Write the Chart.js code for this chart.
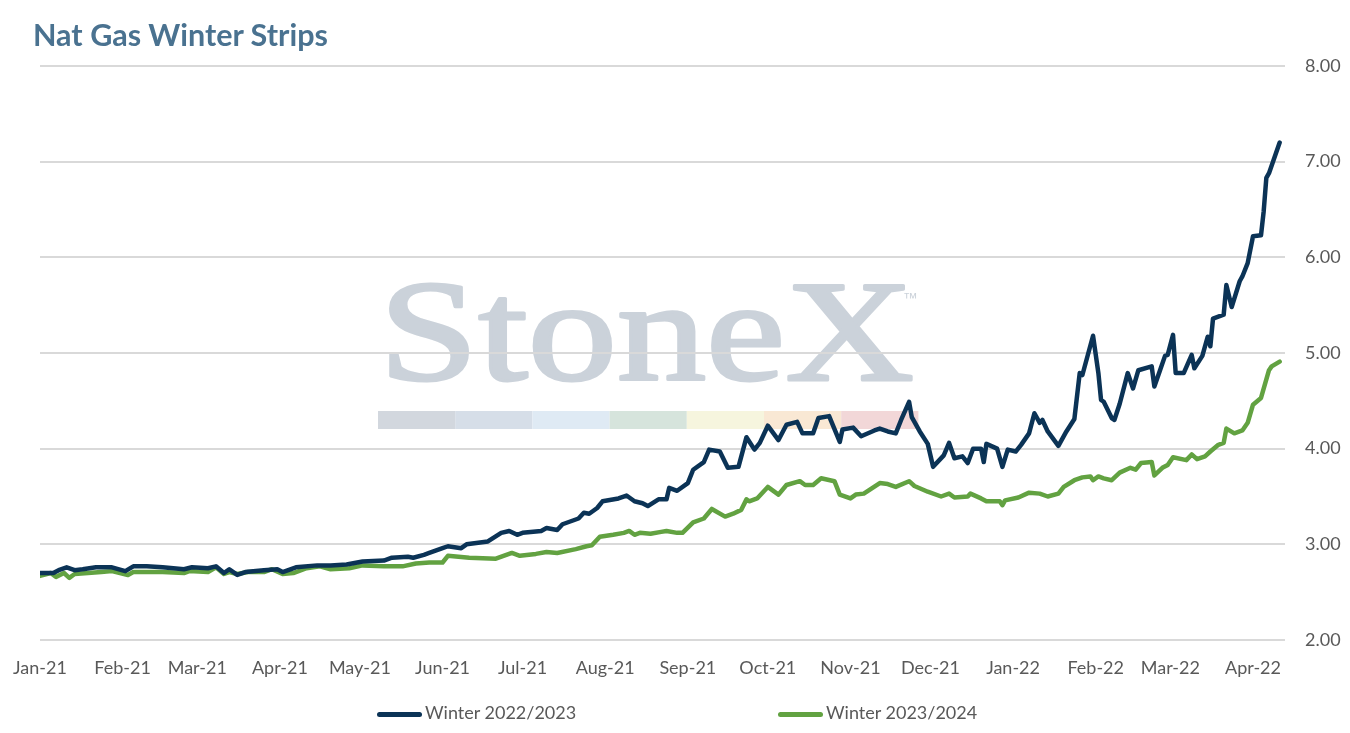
<!DOCTYPE html>
<html>
<head>
<meta charset="utf-8">
<title>Nat Gas Winter Strips</title>
<script src="https://cdn.jsdelivr.net/npm/chart.js@4.4.1/dist/chart.umd.min.js"></script>
<style>
    html, body { margin: 0; padding: 0; overflow: hidden; background: #ffffff; font-family: Lato, "Open Sans", sans-serif; }
    #wrap { position: relative; width: 1350px; height: 733px; }
    #myChart { display: block; position: absolute; left: 0; top: 0; }
    #title { position: absolute; left: 33px; top: 15px; font-size: 30.5px; font-weight: bold; color: #4a7290; line-height: 38px; }
    .legend_item { position: absolute; top: 700px; font-size: 18px; color: #595959; line-height: 24px; white-space: nowrap; }
    .swatch { display: inline-block; width: 45px; height: 5px; border-radius: 3px; vertical-align: middle; margin-right: 3px; }
</style>
</head>
<body>
<div id="wrap">
    <canvas id="myChart" width="1350" height="733"></canvas>
    <div id="title">Nat Gas Winter Strips</div>
    <div class="legend_item" style="left:377px"><span class="swatch" style="background:#0b3356"></span>Winter 2022/2023</div>
    <div class="legend_item" style="left:778px"><span class="swatch" style="background:#62a241"></span>Winter 2023/2024</div>
</div>
<script>
const tickDates = ['2021-01-01', '2021-02-01', '2021-03-01', '2021-04-01', '2021-05-01', '2021-06-01', '2021-07-01', '2021-08-01',
    '2021-09-01', '2021-10-01', '2021-11-01', '2021-12-01', '2022-01-01', '2022-02-01', '2022-03-01', '2022-04-01'];
const tickLabels = ['Jan-21', 'Feb-21', 'Mar-21', 'Apr-21', 'May-21', 'Jun-21', 'Jul-21', 'Aug-21',
    'Sep-21', 'Oct-21', 'Nov-21', 'Dec-21', 'Jan-22', 'Feb-22', 'Mar-22', 'Apr-22'];
const yTicks = [2, 3, 4, 5, 6, 7, 8];

// Winter 2022/2023
const navyDates = [
    '2021-01-01', '2021-01-06', '2021-01-08', '2021-01-11', '2021-01-14', '2021-01-17', '2021-01-22', '2021-01-28',
    '2021-02-02', '2021-02-05', '2021-02-10', '2021-02-16', '2021-02-24', '2021-02-27',
    '2021-03-05', '2021-03-08', '2021-03-11', '2021-03-13', '2021-03-16', '2021-03-19', '2021-03-26', '2021-03-31',
    '2021-04-02', '2021-04-07', '2021-04-15', '2021-04-20', '2021-04-26',
    '2021-05-02', '2021-05-10', '2021-05-13', '2021-05-19', '2021-05-21', '2021-05-25', '2021-05-27',
    '2021-06-01', '2021-06-03', '2021-06-08', '2021-06-10', '2021-06-18', '2021-06-23', '2021-06-26', '2021-06-29',
    '2021-07-01', '2021-07-08', '2021-07-10', '2021-07-14', '2021-07-16', '2021-07-22', '2021-07-24', '2021-07-26', '2021-07-29', '2021-07-31',
    '2021-08-06', '2021-08-09', '2021-08-12', '2021-08-15', '2021-08-17', '2021-08-21', '2021-08-24', '2021-08-25', '2021-08-28',
    '2021-09-01', '2021-09-03', '2021-09-07', '2021-09-09', '2021-09-13', '2021-09-16', '2021-09-20', '2021-09-23', '2021-09-26', '2021-09-28',
    '2021-10-01', '2021-10-05', '2021-10-08', '2021-10-12', '2021-10-14', '2021-10-18', '2021-10-20', '2021-10-24', '2021-10-28', '2021-10-29',
    '2021-11-02', '2021-11-05', '2021-11-10', '2021-11-12', '2021-11-15', '2021-11-18', '2021-11-20', '2021-11-23', '2021-11-24', '2021-11-27', '2021-11-30',
    '2021-12-02', '2021-12-06', '2021-12-08', '2021-12-10', '2021-12-13', '2021-12-15', '2021-12-17', '2021-12-20', '2021-12-21', '2021-12-22', '2021-12-26', '2021-12-28', '2021-12-30',
    '2022-01-02', '2022-01-04', '2022-01-07', '2022-01-09', '2022-01-11', '2022-01-12', '2022-01-14', '2022-01-18', '2022-01-21', '2022-01-24', '2022-01-26', '2022-01-27', '2022-01-31',
    '2022-02-02', '2022-02-03', '2022-02-04', '2022-02-07', '2022-02-08', '2022-02-10', '2022-02-13', '2022-02-15', '2022-02-17', '2022-02-22', '2022-02-23', '2022-02-25', '2022-02-27', '2022-02-28',
    '2022-03-02', '2022-03-03', '2022-03-06', '2022-03-09', '2022-03-10', '2022-03-13', '2022-03-15', '2022-03-16', '2022-03-17', '2022-03-21', '2022-03-22', '2022-03-24', '2022-03-27', '2022-03-28', '2022-03-30',
    '2022-04-01', '2022-04-04', '2022-04-05', '2022-04-06', '2022-04-07', '2022-04-11'
];
const navyValues = [
    2.70, 2.70, 2.73, 2.76, 2.73, 2.74, 2.76, 2.76,
    2.72, 2.77, 2.77, 2.76, 2.74, 2.76,
    2.75, 2.77, 2.70, 2.74, 2.68, 2.71, 2.73, 2.74,
    2.71, 2.76, 2.78, 2.78, 2.79,
    2.82, 2.83, 2.86, 2.87, 2.86, 2.89, 2.91,
    2.96, 2.98, 2.96, 3.00, 3.03, 3.12, 3.14, 3.10,
    3.12, 3.14, 3.17, 3.15, 3.21, 3.27, 3.33, 3.32, 3.38, 3.45,
    3.48, 3.51, 3.45, 3.43, 3.40, 3.47, 3.47, 3.59, 3.56,
    3.64, 3.78, 3.86, 3.99, 3.97, 3.80, 3.81, 4.12, 3.99, 4.06,
    4.24, 4.09, 4.25, 4.28, 4.16, 4.16, 4.32, 4.34, 4.07, 4.20,
    4.22, 4.13, 4.19, 4.21, 4.18, 4.16, 4.30, 4.49, 4.33, 4.18, 4.05,
    3.81, 3.93, 4.06, 3.90, 3.92, 3.85, 4.00, 4.00, 3.86, 4.05, 4.00, 3.81, 3.99,
    3.97, 4.04, 4.16, 4.37, 4.27, 4.30, 4.18, 4.03, 4.18, 4.31, 4.79, 4.77, 5.18,
    4.79, 4.51, 4.49, 4.32, 4.30, 4.47, 4.79, 4.63, 4.82, 4.86, 4.65, 4.81, 4.97, 4.98,
    5.19, 4.79, 4.79, 4.98, 4.84, 4.97, 5.17, 5.07, 5.36, 5.40, 5.71, 5.48, 5.75, 5.80, 5.94,
    6.22, 6.23, 6.48, 6.83, 6.88, 7.20
];

// Winter 2023/2024
const greenDates = [
    '2021-01-01', '2021-01-05', '2021-01-07', '2021-01-10', '2021-01-12', '2021-01-14', '2021-01-19', '2021-01-24', '2021-01-28',
    '2021-02-03', '2021-02-05', '2021-02-10', '2021-02-16', '2021-02-24', '2021-02-26',
    '2021-03-05', '2021-03-08', '2021-03-11', '2021-03-13', '2021-03-16', '2021-03-20', '2021-03-26', '2021-03-29',
    '2021-04-02', '2021-04-06', '2021-04-11', '2021-04-16', '2021-04-20', '2021-04-27',
    '2021-05-02', '2021-05-10', '2021-05-17', '2021-05-22', '2021-05-27',
    '2021-06-01', '2021-06-03', '2021-06-11', '2021-06-21', '2021-06-27', '2021-06-30',
    '2021-07-06', '2021-07-10', '2021-07-14', '2021-07-21', '2021-07-25', '2021-07-27', '2021-07-30',
    '2021-08-04', '2021-08-08', '2021-08-10', '2021-08-12', '2021-08-14', '2021-08-18', '2021-08-22', '2021-08-24', '2021-08-28', '2021-08-30',
    '2021-09-03', '2021-09-07', '2021-09-10', '2021-09-15', '2021-09-18', '2021-09-21', '2021-09-23', '2021-09-24', '2021-09-27',
    '2021-10-01', '2021-10-05', '2021-10-08', '2021-10-13', '2021-10-15', '2021-10-18', '2021-10-21', '2021-10-26', '2021-10-28',
    '2021-11-01', '2021-11-03', '2021-11-06', '2021-11-12', '2021-11-15', '2021-11-18', '2021-11-23', '2021-11-25', '2021-11-30',
    '2021-12-05', '2021-12-08', '2021-12-10', '2021-12-15', '2021-12-16', '2021-12-20', '2021-12-22', '2021-12-27', '2021-12-28', '2021-12-29',
    '2022-01-03', '2022-01-07', '2022-01-11', '2022-01-14', '2022-01-18', '2022-01-20', '2022-01-24', '2022-01-27', '2022-01-30', '2022-01-31',
    '2022-02-02', '2022-02-04', '2022-02-07', '2022-02-10', '2022-02-14', '2022-02-16', '2022-02-18', '2022-02-22', '2022-02-23', '2022-02-26', '2022-02-28',
    '2022-03-02', '2022-03-07', '2022-03-09', '2022-03-11', '2022-03-14', '2022-03-16', '2022-03-19', '2022-03-21', '2022-03-22', '2022-03-25', '2022-03-28', '2022-03-30',
    '2022-04-01', '2022-04-04', '2022-04-07', '2022-04-08', '2022-04-11'
];
const greenValues = [
    2.67, 2.70, 2.66, 2.70, 2.65, 2.69, 2.70, 2.71, 2.72,
    2.68, 2.71, 2.71, 2.71, 2.70, 2.72,
    2.71, 2.76, 2.69, 2.71, 2.69, 2.71, 2.71, 2.74,
    2.69, 2.70, 2.75, 2.77, 2.74, 2.75,
    2.78, 2.77, 2.77, 2.80, 2.81,
    2.81, 2.88, 2.86, 2.85, 2.91, 2.88,
    2.90, 2.92, 2.91, 2.95, 2.98, 2.99, 3.08,
    3.10, 3.12, 3.14, 3.10, 3.12, 3.11, 3.13, 3.14, 3.12, 3.12,
    3.23, 3.27, 3.37, 3.29, 3.32, 3.36, 3.47, 3.45, 3.48,
    3.60, 3.52, 3.62, 3.66, 3.62, 3.62, 3.69, 3.66, 3.52,
    3.48, 3.52, 3.53, 3.64, 3.63, 3.60, 3.66, 3.61, 3.55,
    3.50, 3.53, 3.49, 3.50, 3.53, 3.48, 3.45, 3.45, 3.41, 3.46,
    3.49, 3.54, 3.53, 3.50, 3.53, 3.60, 3.67, 3.70, 3.71, 3.67,
    3.71, 3.69, 3.67, 3.75, 3.80, 3.78, 3.85, 3.86, 3.72, 3.80, 3.83,
    3.91, 3.88, 3.94, 3.89, 3.92, 3.97, 4.04, 4.06, 4.21, 4.16, 4.19, 4.27,
    4.46, 4.53, 4.82, 4.86, 4.91
];

const startDay = Date.UTC(2021, 0, 1);
const xMax = 467;

function dayOf(s) {
    const p = s.split('-');
    return (Date.UTC(+p[0], +p[1] - 1, +p[2]) - startDay) / 86400000;
}

function toPoints(dates, values) {
    return dates.map((d, i) => ({ x: dayOf(d), y: values[i] }));
}

// faded StoneX logo behind the plot
const watermark = {
    id: 'watermark',
    beforeDraw(chart) {
        const ctx = chart.ctx;
        ctx.save();
        ctx.fillStyle = '#cbd2da';
        ctx.strokeStyle = '#cbd2da';
        ctx.lineWidth = 3;
        ctx.lineJoin = 'round';
        ctx.font = '144px "Liberation Serif", "DejaVu Serif", serif';
        ctx.textBaseline = 'alphabetic';
        const w = ctx.measureText('StoneX').width;
        ctx.translate(379, 380);
        ctx.scale(535 / w, 1);
        ctx.fillText('StoneX', 0, 0);
        ctx.strokeText('StoneX', 0, 0);
        ctx.restore();

        ctx.save();
        ctx.fillStyle = '#cbd2da';
        ctx.font = '15px "Liberation Sans", sans-serif';
        ctx.fillText('™', 903, 303);
        const bars = ['#d2d7de', '#d6dee8', '#dfeaf4', '#d6e4dc', '#f6f5de', '#f9e8d4', '#f2d7d8'];
        for (let i = 0; i < bars.length; i++) {
            ctx.fillStyle = bars[i];
            ctx.fillRect(378 + i * 77.2, 411, 77.2, 18);
        }
        ctx.restore();
    }
};

document.addEventListener("DOMContentLoaded", function () {
    const tickDays = tickDates.map(dayOf);

    const data = {
        datasets: [
            {
                label: 'Winter 2022/2023',
                borderColor: '#0b3356',
                backgroundColor: '#0b3356',
                data: toPoints(navyDates, navyValues)
            },
            {
                label: 'Winter 2023/2024',
                borderColor: '#62a241',
                backgroundColor: '#62a241',
                data: toPoints(greenDates, greenValues)
            }
        ]
    };

    const config = {
        type: 'line',
        data: data,
        plugins: [watermark],
        options: {
            responsive: false,
            animation: false,
            devicePixelRatio: 1,
            layout: { padding: { top: 66, left: 40, right: 9, bottom: 54 } },
            elements: {
                point: { radius: 0 },
                line: { borderWidth: 4.5, tension: 0, borderJoinStyle: 'round', borderCapStyle: 'round' }
            },
            plugins: {
                legend: { display: false },
                title: { display: false },
                tooltip: { enabled: false }
            },
            scales: {
                x: {
                    type: 'linear',
                    min: 0,
                    max: xMax,
                    grid: { display: false },
                    border: { display: false },
                    afterBuildTicks: axis => { axis.ticks = tickDays.map(v => ({ value: v })); },
                    afterFit: axis => { axis.height = 39; },
                    ticks: {
                        autoSkip: false,
                        maxRotation: 0,
                        minRotation: 0,
                        padding: 9,
                        color: '#595959',
                        font: { family: 'Lato', size: 18 },
                        callback: (value, index) => tickLabels[index]
                    }
                },
                y: {
                    position: 'right',
                    min: 2,
                    max: 8,
                    afterBuildTicks: axis => { axis.ticks = yTicks.map(v => ({ value: v })); },
                    afterFit: axis => { axis.width = 56; },
                    grid: { color: '#d9d9d9', lineWidth: 2, drawTicks: false },
                    border: { display: false },
                    ticks: {
                        padding: 20,
                        color: '#595959',
                        font: { family: 'Lato', size: 18 },
                        callback: value => value.toFixed(2)
                    }
                }
            }
        }
    };

    const canvas = document.getElementById('myChart');
    const chart = new Chart(canvas, config);
});
</script>
</body>
</html>
